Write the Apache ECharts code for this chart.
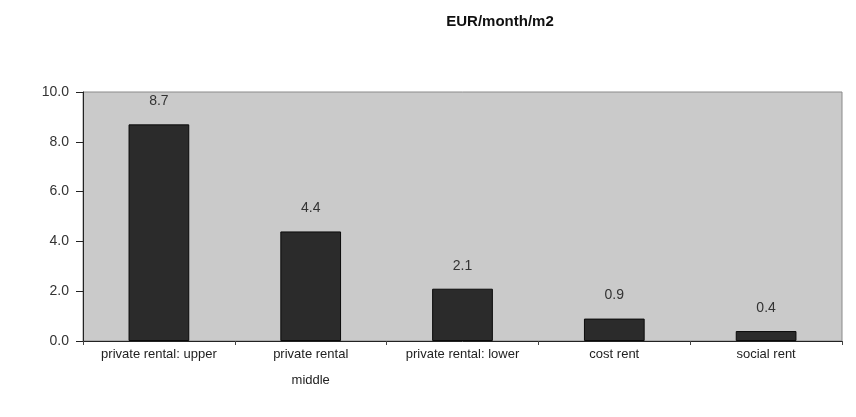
<!DOCTYPE html>
<html>
<head>
<meta charset="utf-8">
<script src="https://cdn.jsdelivr.net/npm/echarts@6/dist/echarts.min.js"></script>
<style>
html,body{margin:0;padding:0;background:#fff;}
#chart{width:856px;height:417px;}
</style>
</head>
<body>
<div id="chart"></div>
<script>
// categories and values
var categories = ['private rental: upper', 'private rental\nmiddle', 'private rental: lower', 'cost rent', 'social rent'];
var rents = [8.7, 4.4, 2.1, 0.9, 0.4];
var yTicks = [0, 2, 4, 6, 8, 10];

var myChart = echarts.init(document.getElementById('chart'));
myChart.setOption({
	backgroundColor: '#ffffff',
	title: {
		text: 'EUR/month/m2',
		left: 495,
		top: 9,
		textAlign: 'center',
		textStyle: {fontFamily: 'Liberation Sans', fontSize: 15, fontWeight: 'bold', color: '#111'}
	},
	grid: {
		left: 83, right: 14, top: 92, bottom: 76,
		show: true,
		backgroundColor: '#cacaca',
		borderColor: '#8a8a8a',
		borderWidth: 1
	},
	xAxis: {
		type: 'category',
		data: categories,
		axisLine: {lineStyle: {color: '#222', width: 1}},
		axisTick: {show: true, alignWithLabel: false, length: 4, lineStyle: {color: '#444'}},
		axisLabel: {
			interval: 0,
			margin: 0,
			lineHeight: 26,
			color: '#222',
			fontFamily: 'Liberation Sans',
			fontSize: 13
		}
	},
	yAxis: {
		type: 'value',
		min: yTicks[0],
		max: yTicks[yTicks.length - 1],
		interval: 2,
		splitLine: {show: false},
		axisLine: {show: true, lineStyle: {color: '#222'}},
		axisTick: {show: true, length: 7, lineStyle: {color: '#222'}},
		axisLabel: {
			margin: 14,
			color: '#333',
			fontFamily: 'Liberation Sans',
			fontSize: 14,
			formatter: function (v) { return v.toFixed(1); }
		}
	},
	series: [{
		type: 'bar',
		data: rents,
		barWidth: '40%',
		itemStyle: {color: '#2b2b2b', borderColor: '#0a0a0a', borderWidth: 1},
		label: {
			show: true,
			position: 'top',
			distance: 16,
			color: '#333',
			fontFamily: 'Liberation Sans',
			fontSize: 14,
			formatter: function (p) { return p.value.toFixed(1); }
		}
	}]
});
</script>
</body>
</html>
